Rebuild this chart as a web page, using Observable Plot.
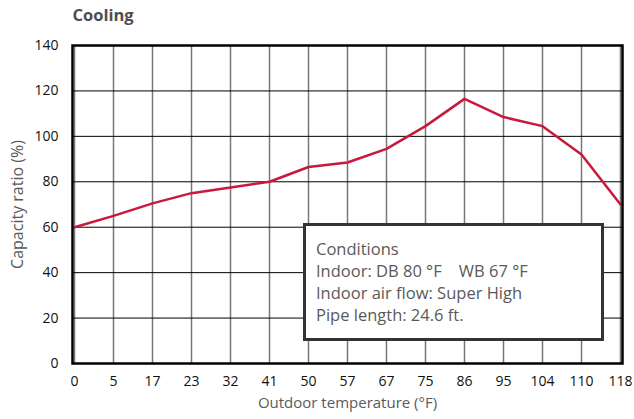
<!DOCTYPE html>
<html>
<head>
<meta charset="utf-8">
<script src="https://cdn.jsdelivr.net/npm/d3@7"></script>
<script src="https://cdn.jsdelivr.net/npm/@observablehq/plot@0.6"></script>
<style>
  body { margin: 0; background: #fff; }
  #wrap { position: relative; width: 634px; height: 419px; }
  #cond {
    position: absolute; left: 303px; top: 223px; width: 295px; height: 112px;
    border: 3px solid #333; background: #fff;
    font-family: "Open Sans", "Noto Sans", sans-serif; font-size: 16.5px; color: #5a5a5a;
    line-height: 22px; padding: 0; box-sizing: content-box;
  }
  #cond .inner { position: absolute; left: 10px; top: 12px; white-space: pre; }
</style>
</head>
<body>
<div id="wrap"></div>
<script>
const temps = ["0","5","17","23","32","41","50","57","67","75","86","95","104","110","118"];
const ratios = [60, 65, 70.5, 75, 77.5, 80, 86.5, 88.5, 94.5, 104.5, 116.5, 108.5, 104.5, 92, 70];
const yTicks = [0, 20, 40, 60, 80, 100, 120, 140];
const title = "Cooling";
const xLabel = "Outdoor temperature (°F)";
const yLabel = "Capacity ratio (%)";
const conditions = ["Conditions", "Indoor: DB 80 °F    WB 67 °F", "Indoor air flow: Super High", "Pipe length: 24.6 ft."];

const data = temps.map((t, i) => ({t, v: ratios[i]}));
const font = '"Open Sans", "Noto Sans", sans-serif';

const chart = Plot.plot({
  width: 634, height: 419,
  marginLeft: 72, marginRight: 12, marginTop: 45, marginBottom: 56,
  style: {fontFamily: font, fontSize: "14px", color: "#000", background: "#fff", overflow: "visible"},
  x: {type: "point", domain: temps, padding: 0, label: null},
  y: {domain: [0, 140], label: null},
  marks: [
    Plot.gridX(temps, {stroke: "#777", strokeOpacity: 1, strokeWidth: 1.5}),
    Plot.gridY(yTicks, {stroke: "#000", strokeOpacity: 1, strokeWidth: 1}),
    Plot.axisX(temps, {tickSize: 0, tickPadding: 13, label: null, fill: "#111"}),
    Plot.axisY(yTicks, {tickSize: 0, tickPadding: 14, label: null, fill: "#111"}),
    Plot.line(data, {x: "t", y: "v", stroke: "#c8193c", strokeWidth: 2.5}),
    Plot.frame({stroke: "#000", strokeWidth: 2.5}),
    Plot.text([title], {frameAnchor: "top-left", dy: -36, textAnchor: "start", fontWeight: "bold", fontSize: 16.5, fill: "#4d4d4f"}),
    Plot.text([xLabel], {frameAnchor: "bottom", dy: 44, fontSize: 15, fill: "#5a5a5a"}),
    Plot.text([yLabel], {frameAnchor: "left", dx: -55, rotate: -90, textAnchor: "middle", fontSize: 16, fill: "#5a5a5a"})
  ]
});

const wrap = document.getElementById("wrap");
wrap.appendChild(chart);
const box = document.createElement("div");
box.id = "cond";
const inner = document.createElement("div");
inner.className = "inner";
inner.textContent = conditions.join("\n");
box.appendChild(inner);
wrap.appendChild(box);
</script>
</body>
</html>
